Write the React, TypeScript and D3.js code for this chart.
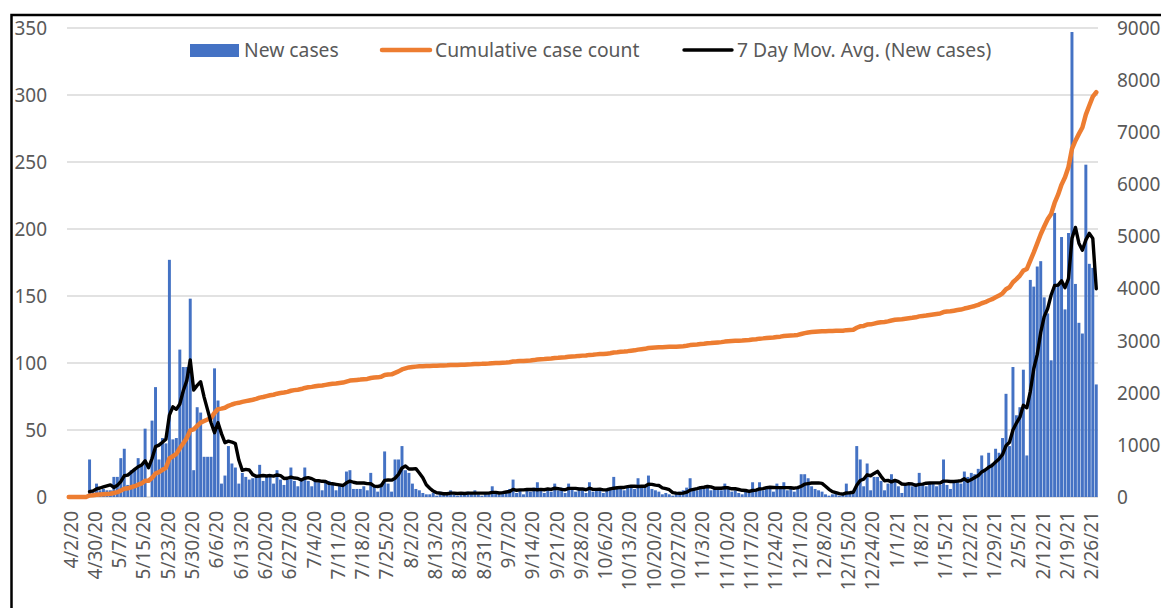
import React from "react";
import * as d3 from "d3";

// Category tick labels (every 7th category is labelled)
const tickLabels: string[] = [
  "4/2/20", "4/30/20", "5/7/20", "5/15/20", "5/23/20", "5/30/20", "6/6/20", "6/13/20",
  "6/20/20", "6/27/20", "7/4/20", "7/11/20", "7/18/20", "7/25/20", "8/2/20", "8/13/20",
  "8/23/20", "8/31/20", "9/7/20", "9/14/20", "9/21/20", "9/28/20", "10/6/20", "10/13/20",
  "10/20/20", "10/27/20", "11/3/20", "11/10/20", "11/17/20", "11/24/20", "12/1/20", "12/8/20",
  "12/15/20", "12/24/20", "1/1/21", "1/8/21", "1/15/21", "1/22/21", "1/29/21", "2/5/21",
  "2/12/21", "2/19/21", "2/26/21",
];
const labelEvery = 7;

// New cases per reporting day
const newCases: number[] = [
  0, 0, 0, 0, 0, 0, 28, 4, 10, 5, 6, 5, 5, 15, 15, 29, 36, 9, 20, 20,
  29, 24, 51, 0, 57, 82, 28, 44, 40, 177, 43, 44, 110, 97, 97, 148, 20, 67, 63, 30,
  30, 30, 96, 72, 10, 16, 38, 25, 22, 10,
  18, 15, 13, 14, 16, 24, 12, 16, 17, 10, 20,
  13, 9, 13, 22, 12, 8, 12, 22, 12, 8,
  12, 11, 5, 11, 12, 10, 5, 9, 8, 19,
  20, 6, 6, 6, 8, 5, 18, 8, 4,
  10, 34, 10, 4, 28, 28, 38, 20, 18, 10,
  6, 5, 3, 2,
  2, 3, 1, 4, 2, 3, 5, 2, 1, 3, 2, 4, 3, 5, 2, 1, 3, 2, 8, 3, 2, 4,
  4, 6, 13, 3, 5, 2, 6, 4, 7, 11, 5, 3, 6, 4, 10, 5, 7, 3, 10, 6, 4, 7, 5,
  3, 11, 4, 6, 5, 3, 6, 7, 15, 6, 8, 5, 7, 9, 6, 14, 7, 8, 16, 6,
  5, 4, 2, 3, 2, 1, 3, 4, 5, 7, 14, 6, 5, 8, 6, 9, 5, 7, 6, 5,
  10, 6, 4, 5, 3, 2, 4, 5, 11,
  6, 11, 5, 7, 6, 4, 10, 6, 11, 5, 6, 4, 7, 17, 17, 14, 8, 6, 5, 4,
  2, 1, 2, 3, 1, 2, 10, 3, 4, 38, 28, 8, 25, 5, 15, 15, 12, 5, 10, 17,
  13, 8, 3, 10, 9, 8,
  10, 18, 9, 8, 11, 10, 8, 9, 28, 9, 6, 11, 12, 10, 19, 15, 18, 17, 21, 31,
  20, 33, 25, 36, 33, 44, 77, 38, 97, 61, 67, 95, 31,
  162, 157, 172, 176, 149, 137, 102, 212, 159, 194, 140, 197, 347, 159, 130, 122, 248, 174, 171, 84,
];

// Cumulative case count is the running total of new cases
const cumulative: number[] = (() => {
  let s = 0;
  return newCases.map((v) => (s += v));
})();

// Excel-style 7 period moving average trendline
const maPeriod = 7;
const movingAvg: (number | null)[] = newCases.map((_, i) =>
  i < maPeriod - 1 ? null : (d3.mean(newCases.slice(i - maPeriod + 1, i + 1)) as number)
);

const leftTicks = [0, 50, 100, 150, 200, 250, 300, 350];
const rightTicks = [0, 1000, 2000, 3000, 4000, 5000, 6000, 7000, 8000, 9000];

const W = 1161;
const H = 608;
const plotL = 67;
const plotR = 1098;
const plotT = 28;
const plotB = 497;
const textColor = "#595959";
const font = "'Noto Sans', 'Open Sans', sans-serif";

export default function App() {
  const idx = d3.range(newCases.length);
  const x = d3.scaleBand<number>().domain(idx).range([plotL, plotR]).paddingInner(0.15).paddingOuter(0.075);
  const cx = (i: number) => (x(i) as number) + x.bandwidth() / 2;
  const yL = d3.scaleLinear().domain([0, 350]).range([plotB, plotT]);
  const yR = d3.scaleLinear().domain([0, 9000]).range([plotB, plotT]);

  const cumLine = d3.line<number>().x((_, i) => cx(i)).y((d) => yR(d));
  const maLine = d3
    .line<number | null>()
    .defined((d) => d !== null)
    .x((_, i) => cx(i))
    .y((d) => yL(d as number));

  return (
    <div style={{ position: "absolute", left: 0, top: 0 }}>
      <svg width={W} height={H} style={{ display: "block", background: "#fff" }} fontFamily={font}>
        <rect x={0} y={0} width={W} height={H} fill="#fff" />
        {/* gridlines */}
        {leftTicks.map((t) => (
          <line key={"g" + t} x1={plotL} x2={plotR} y1={yL(t)} y2={yL(t)} stroke="#d9d9d9" strokeWidth={1.5} />
        ))}
        {/* bars */}
        {newCases.map((v, i) => (
          <rect key={"b" + i} x={x(i)} y={yL(v)} width={x.bandwidth()} height={plotB - yL(v)} fill="#4472c4" />
        ))}
        {/* cumulative */}
        <path d={cumLine(cumulative) || ""} fill="none" stroke="#ed7d31" strokeWidth={4.5} strokeLinejoin="round" strokeLinecap="round" />
        {/* moving average */}
        <path d={maLine(movingAvg) || ""} fill="none" stroke="#000" strokeWidth={3.4} strokeLinejoin="round" strokeLinecap="round" />
        {/* left axis labels */}
        {leftTicks.map((t) => (
          <text key={"l" + t} x={47} y={yL(t)} dy="0.36em" textAnchor="end" fontSize={19} fill={textColor}>
            {t}
          </text>
        ))}
        {/* right axis labels */}
        {rightTicks.map((t) => (
          <text key={"r" + t} x={1117} y={yR(t)} dy="0.36em" textAnchor="start" fontSize={19} fill={textColor}>
            {t}
          </text>
        ))}
        {/* category labels */}
        {tickLabels.map((lab, k) => {
          const i = k * labelEvery;
          const px = cx(i) + 2;
          return (
            <text
              key={"x" + k}
              transform={`translate(${px},${511}) rotate(-90)`}
              dy="0.36em"
              textAnchor="end"
              fontSize={19}
              fill={textColor}
            >
              {lab}
            </text>
          );
        })}
        {/* legend */}
        <rect x={190} y={44} width={49} height={13} fill="#4472c4" />
        <text x={244} y={50} dy="0.36em" fontSize={19.3} fill={textColor}>New cases</text>
        <line x1={382} x2={430} y1={50} y2={50} stroke="#ed7d31" strokeWidth={4.5} strokeLinecap="round" />
        <text x={435} y={50} dy="0.36em" fontSize={19.3} fill={textColor}>Cumulative case count</text>
        <line x1={684} x2={732} y1={50} y2={50} stroke="#000" strokeWidth={3.4} strokeLinecap="round" />
        <text x={737} y={50} dy="0.36em" fontSize={19.3} fill={textColor}>7 Day Mov. Avg. (New cases)</text>
        {/* frame */}
        <path d={`M11.5,${H + 10} V15 H${W + 10}`} fill="none" stroke="#000" strokeWidth={2.5} />
      </svg>
    </div>
  );
}
